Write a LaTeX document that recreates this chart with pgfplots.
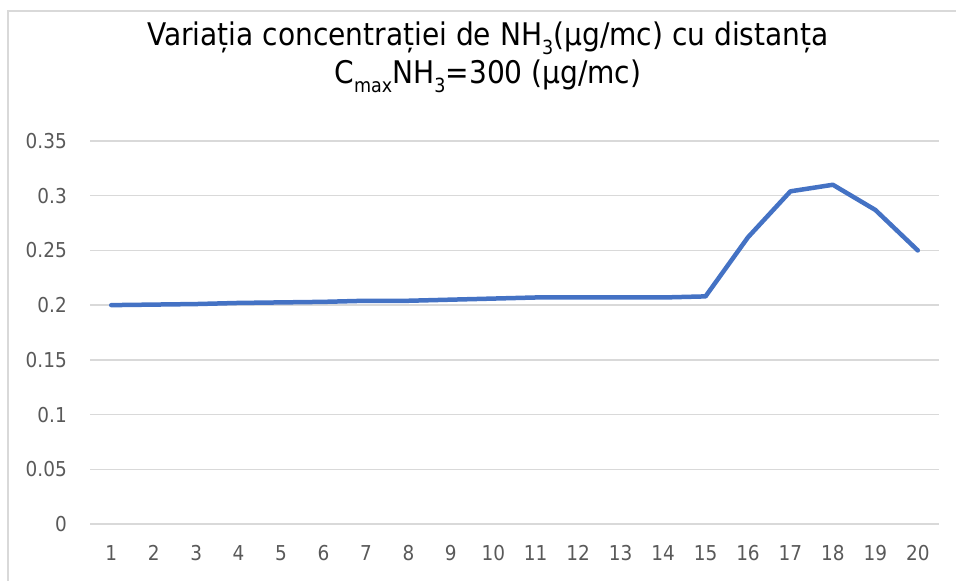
\documentclass[border=0pt]{standalone}
\usepackage{fontspec}
\setmainfont{DejaVu Sans Condensed}
\usepackage{pgfplots}
\pgfplotsset{compat=1.18}
\definecolor{linecol}{HTML}{4472C4}
\definecolor{gridcol}{HTML}{D9D9D9}
\definecolor{tickcol}{HTML}{595959}
\newcommand\sub[1]{\raisebox{-0.28em}{\fontsize{19.5pt}{19.5pt}\selectfont #1}}
\begin{document}
\begin{tikzpicture}[x=1pt,y=1pt]
\path[use as bounding box] (0,0) rectangle (956,581);
\draw[gridcol, line width=1.5pt] (8,0) -- (8,570) -- (956,570);
\node[anchor=base, font=\fontsize{31.2pt}{31.2pt}\selectfont, text=black] at (488,535) {Variația concentrației de NH\sub{3}(µg/mc) cu distanța};
\node[anchor=base, font=\fontsize{31.2pt}{31.2pt}\selectfont, text=black] at (488,497) {C\sub{max}NH\sub{3}=300 (µg/mc)};
\begin{axis}[
  at={(90pt,57pt)}, anchor=south west,
  scale only axis, width=849pt, height=383pt,
  xmin=0.5, xmax=20.5, ymin=0, ymax=0.35,
  axis line style={draw=none},
  major tick length=0pt,
  tick style={draw=none},
  xtick={1,...,20},
  ytick={0,0.05,0.1,0.15,0.2,0.25,0.3,0.35},
  yticklabels={0,0.05,0.1,0.15,0.2,0.25,0.3,0.35},
  ymajorgrids,
  grid style={gridcol, line width=1.5pt},
  /pgf/number format/assume math mode=true,
  tick label style={font=\fontsize{20.5pt}{20.5pt}\selectfont, text=tickcol, inner sep=0pt},
  yticklabel style={anchor=east, xshift=-23pt},
  xticklabel style={anchor=north, yshift=-21pt},
  clip=false,
]
\addplot[linecol, line width=4.5pt, line join=round, line cap=round, mark=none] coordinates {
(1,0.200) (2,0.2005) (3,0.201) (4,0.202) (5,0.2025) (6,0.203) (7,0.204) (8,0.204) (9,0.205) (10,0.206)
(11,0.207) (12,0.207) (13,0.207) (14,0.207) (15,0.208) (16,0.262) (17,0.304) (18,0.310) (19,0.287) (20,0.250)
};
\end{axis}
\end{tikzpicture}
\end{document}
